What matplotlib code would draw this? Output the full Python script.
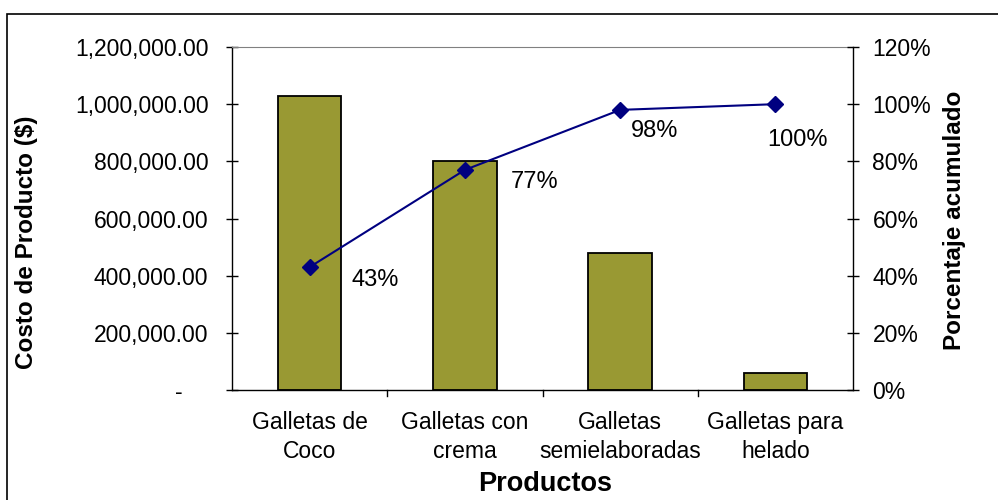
import matplotlib.pyplot as plt
from matplotlib.patches import Rectangle

plt.rcParams['font.family'] = ['Liberation Sans', 'DejaVu Sans']

productos = ['Galletas de\nCoco', 'Galletas con\ncrema', 'Galletas\nsemielaboradas', 'Galletas para\nhelado']
costos = [1030000, 800000, 480000, 60000]
acumulado = [43, 77, 98, 100]
etiquetas = ['43%', '77%', '98%', '100%']
label_offsets = [(47, -9), (50, -9), (25, -15), (16, -26)]

costo_ticks = [0, 200000, 400000, 600000, 800000, 1000000, 1200000]
costo_labels = ['-    ', '200,000.00', '400,000.00', '600,000.00', '800,000.00',
                '1,000,000.00', '1,200,000.00']
pct_ticks = [0, 20, 40, 60, 80, 100, 120]

W, H = 998, 500
fig = plt.figure(figsize=(W / 100, H / 100), dpi=100)
# outer chart frame
fig.patches.append(Rectangle((7 / W, -0.1), 1.1, (H - 14) / H + 0.1,
                             transform=fig.transFigure, fill=False,
                             edgecolor='black', linewidth=1.2))

ax = fig.add_axes([232 / W, 1 - 390 / H, (853 - 232) / W, (390 - 47) / H])
x = list(range(len(productos)))
ax.bar(x, costos, width=0.41, color='#999933', edgecolor='black', linewidth=1.3, zorder=2)
ax.set_xlim(-0.5, len(productos) - 0.5)
ax.set_ylim(0, 1200000)
ax.set_yticks(costo_ticks)
ax.set_yticklabels(costo_labels, fontsize=16.5)
ax.set_xticks(x)
ax.set_xticklabels(productos, fontsize=16.5, linespacing=1.35)
ax.tick_params(axis='x', length=0, pad=15)
ax.tick_params(axis='y', direction='inout', length=8, width=1, pad=13)
# category boundary ticks below the x axis
for b in [i + 0.5 for i in range(len(productos) - 1)]:
    ax.plot([b, b], [0, -0.018 * 1200000], color='black', linewidth=1, clip_on=False)
ax.spines['top'].set_color('#808080')
ax.spines['right'].set_visible(False)
for s in ['left', 'bottom']:
    ax.spines[s].set_linewidth(1)

ax2 = ax.twinx()
ax2.plot(x, acumulado, color='#000080', linewidth=1.5, marker='D', markersize=8, zorder=3)
ax2.set_ylim(0, 120)
ax2.set_yticks(pct_ticks)
ax2.set_yticklabels([f'{t}%' for t in pct_ticks], fontsize=16.5)
ax2.tick_params(axis='y', direction='inout', length=8, width=1, pad=10)
ax2.spines['right'].set_linewidth(1)
ax2.spines['top'].set_visible(False)
ax2.spines['left'].set_visible(False)
ax2.spines['bottom'].set_visible(False)

for xi, yi, lab, off in zip(x, acumulado, etiquetas, label_offsets):
    ax2.annotate(lab, (xi, yi), xytext=off, textcoords='offset points',
                 ha='center', va='center', fontsize=17)

# axis titles
fig.text(545 / W, 1 - 484 / H, 'Productos', fontsize=19.5, fontweight='bold',
         ha='center', va='center')
fig.text(27 / W, 1 - 242 / H, 'Costo de Producto ($)', fontsize=17.5, fontweight='bold',
         rotation=90, ha='center', va='center')
fig.text(955 / W, 1 - 220 / H, 'Porcentaje acumulado', fontsize=17.5, fontweight='bold',
         rotation=90, ha='center', va='center')

fig.savefig('out.png', dpi=100)
